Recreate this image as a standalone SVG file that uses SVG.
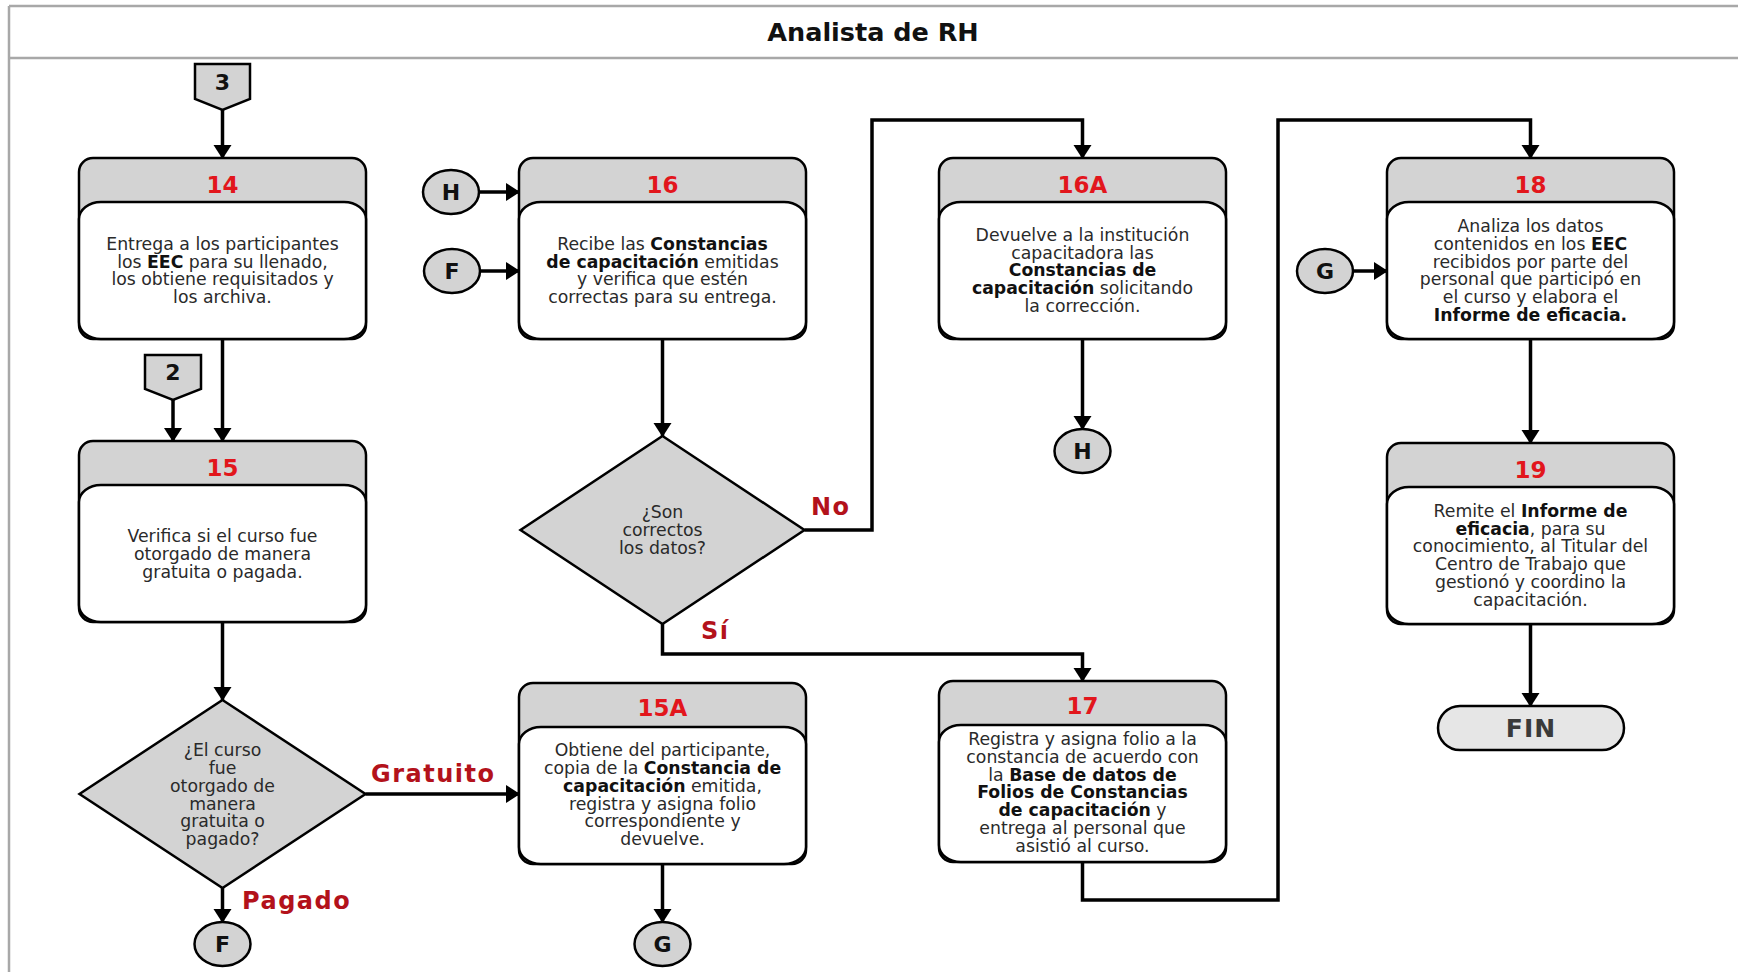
<svg xmlns="http://www.w3.org/2000/svg" width="1738" height="972" viewBox="0 0 1738 972">
  <style>
    .frame { stroke:#a8a8a8; stroke-width:2.5; fill:none }
    .title { font-family:"DejaVu Sans", "Liberation Sans", sans-serif; font-weight:bold; font-size:25.5px; fill:#111; text-anchor:middle }
    .hdr { fill:#d3d3d3; stroke:#000; stroke-width:2.5 }
    .body { fill:#fff; stroke:#000; stroke-width:2.5 }
    .shape { fill:#d3d3d3; stroke:#000; stroke-width:2.5 }
    .num { font-family:"DejaVu Sans", sans-serif; font-weight:bold; font-size:23px; fill:#e2161c; text-anchor:middle }
    .txt { font-family:"DejaVu Sans", sans-serif; font-size:17.3px; fill:#2a2a2a; text-anchor:middle }
    .b { font-weight:bold; fill:#111 }
    .ref { font-family:"DejaVu Sans", sans-serif; font-weight:bold; font-size:22px; fill:#111; text-anchor:middle }
    .lbl { font-family:"DejaVu Sans", sans-serif; font-weight:bold; font-size:24px; fill:#b3121b; letter-spacing:1.5px }
    .fin { font-family:"DejaVu Sans", sans-serif; font-weight:bold; font-size:25px; fill:#3a3a3a; text-anchor:middle; letter-spacing:1px }
    .conn { fill:none; stroke:#000; stroke-width:3.5; marker-end:url(#arrow) }
  </style>
  <defs>
    <marker id="arrow" markerUnits="userSpaceOnUse" markerWidth="14" markerHeight="20" refX="13" refY="10" orient="auto">
      <path d="M0,1 L14,10 L0,19 z" fill="#000"/>
    </marker>
  </defs>

  <rect width="1738" height="972" fill="#fff"/>

  <!-- lane frame and title -->
  <g id="lane">
    <line class="frame" x1="9" y1="6" x2="1738" y2="6"/>
    <line class="frame" x1="9" y1="58" x2="1738" y2="58"/>
    <line class="frame" x1="9" y1="6" x2="9" y2="972"/>
    <text class="title" x="873" y="41">Analista de RH</text>
  </g>

  <!-- connectors -->
  <g id="connectors">
    <path class="conn" d="M222.5,110 V158"/>
    <path class="conn" d="M222.5,339 V441"/>
    <path class="conn" d="M173,400 V441"/>
    <path class="conn" d="M222.5,622 V700"/>
    <path class="conn" d="M365.5,794 H519"/>
    <path class="conn" d="M222.5,888 V922"/>
    <path class="conn" d="M479,192 H519"/>
    <path class="conn" d="M480,271 H519"/>
    <path class="conn" d="M662.5,339 V436"/>
    <path class="conn" d="M804.5,530 H872 V120 H1082.5 V158"/>
    <path class="conn" d="M662.5,624 V654 H1082.5 V681"/>
    <path class="conn" d="M1082.5,339 V429"/>
    <path class="conn" d="M662.5,864 V922"/>
    <path class="conn" d="M1082.5,862 V900 H1278 V120 H1530.5 V158"/>
    <path class="conn" d="M1353,271 H1387"/>
    <path class="conn" d="M1530.5,339 V443"/>
    <path class="conn" d="M1530.5,624 V706"/>
    <text class="lbl" x="371" y="782">Gratuito</text>
    <text class="lbl" x="242" y="909">Pagado</text>
    <text class="lbl" x="811" y="515">No</text>
    <text class="lbl" x="701" y="639">Sí</text>
  </g>

  <!-- off-page references -->
  <g id="ref-3">
    <path class="shape" d="M195,64 H250 V99 L222.5,110 L195,99 z"/>
    <text class="ref" x="222.5" y="90">3</text>
  </g>
  <g id="ref-2">
    <path class="shape" d="M145,355 H201 V389 L173,400 L145,389 z"/>
    <text class="ref" x="173" y="380">2</text>
  </g>

  <!-- step 14 -->
  <g id="n14">
    <rect class="hdr" x="79" y="158" width="287" height="181" rx="14"/>
    <rect class="body" x="79" y="202" width="287" height="137" rx="22" ry="17"/>
    <text class="num" x="222.5" y="193">14</text>
    <text class="txt" x="222.5" y="250">Entrega a los participantes</text>
    <text class="txt" x="222.5" y="268">los <tspan class="b">EEC</tspan> para su llenado,</text>
    <text class="txt" x="222.5" y="285">los obtiene requisitados y</text>
    <text class="txt" x="222.5" y="303">los archiva.</text>
  </g>

  <!-- step 15 -->
  <g id="n15">
    <rect class="hdr" x="79" y="441" width="287" height="181" rx="14"/>
    <rect class="body" x="79" y="485" width="287" height="137" rx="22" ry="17"/>
    <text class="num" x="222.5" y="476">15</text>
    <text class="txt" x="222.5" y="542">Verifica si el curso fue</text>
    <text class="txt" x="222.5" y="560">otorgado de manera</text>
    <text class="txt" x="222.5" y="578">gratuita o pagada.</text>
  </g>

  <!-- decision: free or paid -->
  <g id="d-pago">
    <path class="shape" d="M222.5,700 L365.5,794 L222.5,888 L79.5,794 z"/>
    <text class="txt" x="222.5" y="756">¿El curso</text>
    <text class="txt" x="222.5" y="774">fue</text>
    <text class="txt" x="222.5" y="792">otorgado de</text>
    <text class="txt" x="222.5" y="810">manera</text>
    <text class="txt" x="222.5" y="827">gratuita o</text>
    <text class="txt" x="222.5" y="845">pagado?</text>
  </g>

  <g id="c-F-out">
    <ellipse class="shape" cx="222.5" cy="944" rx="28" ry="22"/>
    <text class="ref" x="222.5" y="952">F</text>
  </g>

  <!-- incoming references to step 16 -->
  <g id="c-H-in">
    <ellipse class="shape" cx="451" cy="192" rx="28" ry="22"/>
    <text class="ref" x="451" y="200">H</text>
  </g>
  <g id="c-F-in">
    <ellipse class="shape" cx="452" cy="271" rx="28" ry="22"/>
    <text class="ref" x="452" y="279">F</text>
  </g>

  <!-- step 16 -->
  <g id="n16">
    <rect class="hdr" x="519" y="158" width="287" height="181" rx="14"/>
    <rect class="body" x="519" y="202" width="287" height="137" rx="22" ry="17"/>
    <text class="num" x="662.5" y="193">16</text>
    <text class="txt" x="662.5" y="250">Recibe las <tspan class="b">Constancias</tspan></text>
    <text class="txt" x="662.5" y="268"><tspan class="b">de capacitación</tspan> emitidas</text>
    <text class="txt" x="662.5" y="285">y verifica que estén</text>
    <text class="txt" x="662.5" y="303">correctas para su entrega.</text>
  </g>

  <!-- decision: data correct -->
  <g id="d-datos">
    <path class="shape" d="M662.5,436 L804.5,530 L662.5,624 L520.5,530 z"/>
    <text class="txt" x="662.5" y="518">¿Son</text>
    <text class="txt" x="662.5" y="536">correctos</text>
    <text class="txt" x="662.5" y="554">los datos?</text>
  </g>

  <!-- step 15A -->
  <g id="n15A">
    <rect class="hdr" x="519" y="683" width="287" height="181" rx="14"/>
    <rect class="body" x="519" y="727" width="287" height="137" rx="22" ry="17"/>
    <text class="num" x="662.5" y="716">15A</text>
    <text class="txt" x="662.5" y="756">Obtiene del participante,</text>
    <text class="txt" x="662.5" y="774">copia de la <tspan class="b">Constancia de</tspan></text>
    <text class="txt" x="662.5" y="792"><tspan class="b">capacitación</tspan> emitida,</text>
    <text class="txt" x="662.5" y="810">registra y asigna folio</text>
    <text class="txt" x="662.5" y="827">correspondiente y</text>
    <text class="txt" x="662.5" y="845">devuelve.</text>
  </g>

  <g id="c-G-out">
    <ellipse class="shape" cx="662.5" cy="944" rx="28" ry="22"/>
    <text class="ref" x="662.5" y="952">G</text>
  </g>

  <!-- step 16A -->
  <g id="n16A">
    <rect class="hdr" x="939" y="158" width="287" height="181" rx="14"/>
    <rect class="body" x="939" y="202" width="287" height="137" rx="22" ry="17"/>
    <text class="num" x="1082.5" y="193">16A</text>
    <text class="txt" x="1082.5" y="241">Devuelve a la institución</text>
    <text class="txt" x="1082.5" y="259">capacitadora las</text>
    <text class="txt" x="1082.5" y="276"><tspan class="b">Constancias de</tspan></text>
    <text class="txt" x="1082.5" y="294"><tspan class="b">capacitación</tspan> solicitando</text>
    <text class="txt" x="1082.5" y="312">la corrección.</text>
  </g>

  <g id="c-H-out">
    <ellipse class="shape" cx="1082.5" cy="451" rx="28" ry="22"/>
    <text class="ref" x="1082.5" y="459">H</text>
  </g>

  <!-- step 17 -->
  <g id="n17">
    <rect class="hdr" x="939" y="681" width="287" height="181" rx="14"/>
    <rect class="body" x="939" y="725" width="287" height="137" rx="22" ry="17"/>
    <text class="num" x="1082.5" y="714">17</text>
    <text class="txt" x="1082.5" y="745">Registra y asigna folio a la</text>
    <text class="txt" x="1082.5" y="763">constancia de acuerdo con</text>
    <text class="txt" x="1082.5" y="781">la <tspan class="b">Base de datos de</tspan></text>
    <text class="txt" x="1082.5" y="798"><tspan class="b">Folios de Constancias</tspan></text>
    <text class="txt" x="1082.5" y="816"><tspan class="b">de capacitación</tspan> y</text>
    <text class="txt" x="1082.5" y="834">entrega al personal que</text>
    <text class="txt" x="1082.5" y="852">asistió al curso.</text>
  </g>

  <g id="c-G-in">
    <ellipse class="shape" cx="1325" cy="271" rx="28" ry="22"/>
    <text class="ref" x="1325" y="279">G</text>
  </g>

  <!-- step 18 -->
  <g id="n18">
    <rect class="hdr" x="1387" y="158" width="287" height="181" rx="14"/>
    <rect class="body" x="1387" y="202" width="287" height="137" rx="22" ry="17"/>
    <text class="num" x="1530.5" y="193">18</text>
    <text class="txt" x="1530.5" y="232">Analiza los datos</text>
    <text class="txt" x="1530.5" y="250">contenidos en los <tspan class="b">EEC</tspan></text>
    <text class="txt" x="1530.5" y="268">recibidos por parte del</text>
    <text class="txt" x="1530.5" y="285">personal que participó en</text>
    <text class="txt" x="1530.5" y="303">el curso y elabora el</text>
    <text class="txt" x="1530.5" y="321"><tspan class="b">Informe de eficacia.</tspan></text>
  </g>

  <!-- step 19 -->
  <g id="n19">
    <rect class="hdr" x="1387" y="443" width="287" height="181" rx="14"/>
    <rect class="body" x="1387" y="487" width="287" height="137" rx="22" ry="17"/>
    <text class="num" x="1530.5" y="478">19</text>
    <text class="txt" x="1530.5" y="517">Remite el <tspan class="b">Informe de</tspan></text>
    <text class="txt" x="1530.5" y="535"><tspan class="b">eficacia</tspan>, para su</text>
    <text class="txt" x="1530.5" y="552">conocimiento, al Titular del</text>
    <text class="txt" x="1530.5" y="570">Centro de Trabajo que</text>
    <text class="txt" x="1530.5" y="588">gestionó y coordino la</text>
    <text class="txt" x="1530.5" y="606">capacitación.</text>
  </g>

  <!-- end -->
  <g id="fin">
    <rect x="1438" y="706" width="186" height="44" rx="22" fill="#e6e6e6" stroke="#000" stroke-width="2.5"/>
    <text class="fin" x="1531" y="737">FIN</text>
  </g>
</svg>
